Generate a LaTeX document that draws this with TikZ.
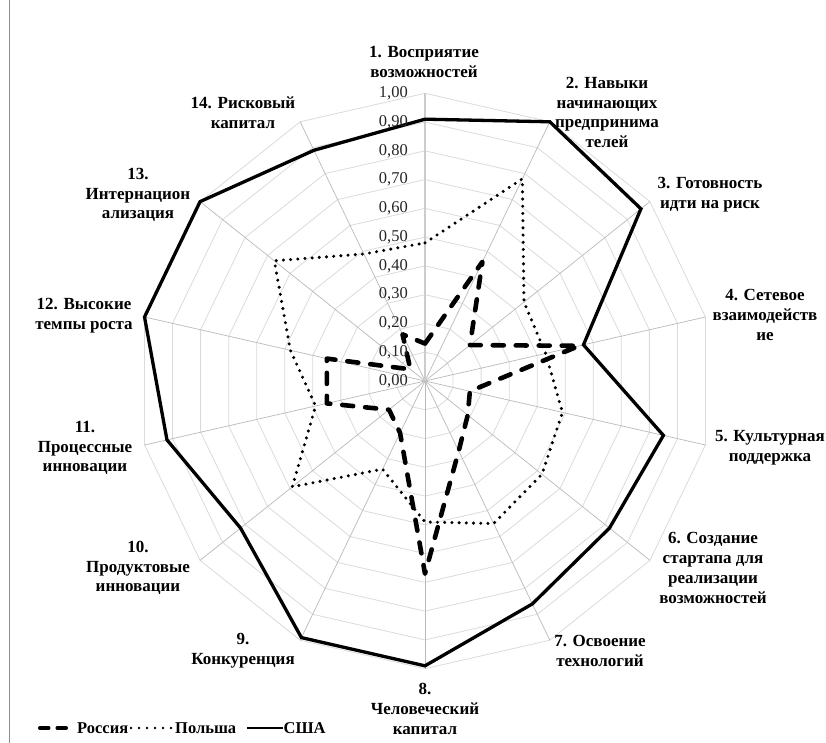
\documentclass[tikz,border=0pt]{standalone}
\usepackage{fontspec}
\setmainfont{Liberation Serif}
\newfontfamily\lser{Liberation Serif}
\begin{document}
\begin{tikzpicture}[x=1pt,y=1pt,
  lbl/.style={font=\lser\fontsize{17}{19.7}\selectfont\bfseries, align=center, text=black, inner sep=0pt},
  leg/.style={font=\lser\fontsize{16.5}{19}\selectfont\bfseries, anchor=west, inner sep=0pt},
  tick/.style={font=\lser\fontsize{16.5}{19}\selectfont, anchor=east, inner sep=0pt, text=black!85},
  ring/.style={draw=black!14, line width=0.8pt},
  spoke/.style={draw=black!27, line width=0.7pt},
  vaxis/.style={draw=black!20, line width=1.6pt},
  usa/.style={draw=black, line width=3.3pt, line join=miter},
  pol/.style={draw=black, line width=3.4pt, line cap=round, dash pattern=on 0pt off 7.2pt},
  rus/.style={draw=black, line width=4.6pt, line cap=round, line join=round, dash pattern=on 11pt off 12pt},
]
\useasboundingbox (0,0) rectangle (826,743);
\fill[white] (0,0) rectangle (826,743);
\draw[black!45, line width=0.8pt] (9.5,0) -- (9.5,743);

\begin{scope}[shift={(425,362)}]
  % rings
  \foreach \k in {1,...,10}{
    \draw[ring] (90:{\k*28.77}) \foreach \i in {1,...,13}{ -- ({90-\i*360/14}:{\k*28.77}) } -- cycle;
  }
  % spokes
  \foreach \i in {1,...,13}{
    \draw[spoke] (0,0) -- ({90-\i*360/14}:287.7);
  }
  \draw[vaxis] (0,0) -- (90:287.7);
  \coordinate (O) at (0,0);

  % data
  \foreach \v [count=\i] in {0.91,1.00,0.96,0.565,0.85,0.82,0.86,0.99,0.99,0.82,0.92,1.00,1.00,0.89}
    \coordinate (U\i) at ({90-(\i-1)*360/14}:{\v*287.7});
  \foreach \v [count=\i] in {0.48,0.78,0.44,0.43,0.49,0.52,0.55,0.49,0.34,0.59,0.39,0.48,0.67,0.49}
    \coordinate (P\i) at ({90-(\i-1)*360/14}:{\v*287.7});
  \foreach \v [count=\i] in {0.13,0.46,0.20,0.55,0.16,0.19,0.27,0.67,0.20,0.16,0.35,0.35,0.065,0.18}
    \coordinate (R\i) at ({90-(\i-1)*360/14}:{\v*287.7});

  \draw[usa] (U1) \foreach \i in {2,...,14}{ -- (U\i) } -- cycle;
  \draw[pol] (P1) \foreach \i in {2,...,14}{ -- (P\i) } -- cycle;
  \draw[rus] (R1) \foreach \i in {2,...,14}{ -- (R\i) } -- cycle;
\end{scope}

% tick labels
\foreach \k/\t in {0/{0,00},1/{0,10},2/{0,20},3/{0,30},4/{0,40},5/{0,50},6/{0,60},7/{0,70},8/{0,80},9/{0,90},10/{1,00}}
  \node[tick] (t\k) at (408,{362+\k*28.77}) {\t};

% axis labels
\node[lbl] (L1)  at (424,681) {1. Восприятие\\возможностей};
\node[lbl] (L2)  at (607,630.5) {2. Навыки\\начинающих\\предпринима\\телей};
\node[lbl] (L3)  at (710,548) {3. Готовность\\идти на риск};
\node[lbl] (L4)  at (765,428) {4. Сетевое\\взаимодейств\\ие};
\node[lbl] (L5)  at (770,295) {5. Культурная\\поддержка};
\node[lbl] (L6)  at (713,175) {6. Создание\\стартапа для\\реализации\\возможностей};
\node[lbl] (L7)  at (600,92) {7. Освоение\\технологий};
\node[lbl] (L8)  at (425,34) {8.\\Человеческий\\капитал};
\node[lbl] (L9)  at (243,92) {9.\\Конкуренция};
\node[lbl] (L10) at (138,175) {10.\\Продуктовые\\инновации};
\node[lbl] (L11) at (85,295) {11.\\Процессные\\инновации};
\node[lbl] (L12) at (84,427.5) {12. Высокие\\темпы роста};
\node[lbl] (L13) at (138,548) {13.\\Интернацион\\ализация};
\node[lbl] (L14) at (243,630) {14. Рисковый\\капитал};

% legend
\coordinate (la1) at (40.25,15);
\coordinate (la2) at (48.25,15);
\coordinate (la3) at (57.75,15);
\coordinate (la4) at (65.75,15);
\draw[black, line width=4.6pt, line cap=round] (la1) -- (la2);
\draw[black, line width=4.6pt, line cap=round] (la3) -- (la4);
\node[leg] (lr) at (77,15) {Россия};
\coordinate (lb1) at (131,15);
\coordinate (lb2) at (171,15);
\draw[black, line width=2.8pt, line cap=round, dash pattern=on 0pt off 8pt] (lb1) -- (lb2);
\node[leg] (lp) at (175,15) {Польша};
\coordinate (lc1) at (247,15);
\coordinate (lc2) at (283,15);
\draw[black, line width=2.6pt] (lc1) -- (lc2);
\node[leg] (lu) at (283.5,15) {США};
\end{tikzpicture}
\end{document}
